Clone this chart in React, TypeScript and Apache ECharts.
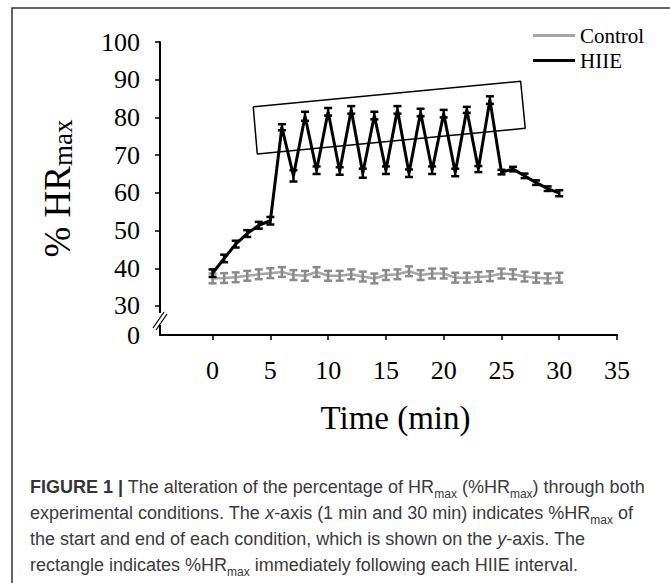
import React, { useEffect, useRef } from "react";
import * as echarts from "echarts";

// ---- data ----
const minutes = [0, 1, 2, 3, 4, 5, 6, 7, 8, 9, 10, 11, 12, 13, 14, 15, 16, 17, 18, 19, 20, 21, 22, 23, 24, 25, 26, 27, 28, 29, 30];
const controlValues = [37.3, 37.4, 37.6, 38.0, 38.4, 38.7, 39.0, 38.2, 38.0, 39.0, 38.0, 38.0, 38.4, 37.8, 37.3, 38.2, 38.4, 39.2, 38.2, 38.6, 38.6, 37.5, 37.5, 37.7, 37.9, 38.6, 38.4, 37.8, 37.5, 37.3, 37.5];
const controlErrors = [1.3, 1.3, 1.3, 1.3, 1.3, 1.3, 1.3, 1.3, 1.3, 1.3, 1.3, 1.3, 1.3, 1.3, 1.3, 1.3, 1.3, 1.3, 1.3, 1.3, 1.3, 1.3, 1.3, 1.3, 1.3, 1.3, 1.3, 1.3, 1.3, 1.3, 1.3];
const hiieValues = [38.7, 42.6, 46.4, 49.2, 51.4, 52.6, 77.4, 64.5, 80.3, 66.0, 81.5, 65.8, 82.0, 65.2, 80.5, 66.0, 82.0, 65.2, 81.3, 66.0, 81.0, 65.4, 82.0, 66.3, 84.6, 65.5, 66.3, 64.5, 62.7, 61.1, 59.9];
const hiieErrors = [1.0, 1.0, 0.9, 0.9, 0.9, 1.0, 0.8, 1.5, 1.2, 1.0, 1.0, 1.0, 1.0, 1.2, 1.0, 1.0, 1.0, 1.0, 1.0, 1.0, 1.0, 1.0, 0.8, 0.8, 1.0, 0.6, 0.6, 0.6, 0.6, 0.6, 0.8];
// rectangle highlighting the post-interval peaks: [minute, %HRmax]
const rectCorners = [[3.52, 82.8], [26.66, 89.6], [27.06, 77.1], [3.87, 70.3], [3.52, 82.8]];
const xTicks = [0, 5, 10, 15, 20, 25, 30, 35];
const yTicks = [30, 40, 50, 60, 70, 80, 90, 100];
const yAxisMin = 22.3; // bottom of the broken axis, labelled "0"
const seriesNames = ["Control", "HIIE"];

const SERIF = "'Liberation Serif', 'Times New Roman', serif";
const SANS = "'Liberation Sans', Arial, sans-serif";

const GRID_LEFT = 160;
const GRID_TOP = 42;
const GRID_W = 457;
const GRID_H = 293;

function errorBarSeries(name: string, values: number[], errors: number[], color: string, half: number, width: number) {
  return {
    type: "custom",
    name: name + " SE",
    silent: true,
    z: 3,
    data: minutes.map((m, i) => [m, values[i] - errors[i], values[i] + errors[i]]),
    encode: { x: 0, y: [1, 2] },
    renderItem: (_params: any, api: any) => {
      const x = api.value(0);
      const lo = api.coord([x, api.value(1)]);
      const hi = api.coord([x, api.value(2)]);
      const st = { stroke: color, lineWidth: width };
      return {
        type: "group",
        children: [
          { type: "line", shape: { x1: lo[0], y1: lo[1], x2: hi[0], y2: hi[1] }, style: st },
          { type: "line", shape: { x1: lo[0] - half, y1: lo[1], x2: lo[0] + half, y2: lo[1] }, style: st },
          { type: "line", shape: { x1: hi[0] - half, y1: hi[1], x2: hi[0] + half, y2: hi[1] }, style: st },
        ],
      };
    },
  };
}

export default function App() {
  const ref = useRef<HTMLDivElement>(null);

  useEffect(() => {
    if (!ref.current) return;
    const chart = echarts.init(ref.current, undefined, { renderer: "svg" });
    const bottomY = GRID_TOP + GRID_H;

    const option: any = {
      animation: false,
      backgroundColor: "#fff",
      grid: { left: GRID_LEFT, top: GRID_TOP, width: GRID_W, height: GRID_H },
      legend: {
        data: seriesNames,
        orient: "vertical",
        left: 528,
        top: 20,
        icon: "rect",
        itemWidth: 42,
        itemHeight: 3,
        itemGap: 4,
        textStyle: { fontFamily: SERIF, fontSize: 21, color: "#000" },
      },
      xAxis: {
        type: "value",
        min: -4.55,
        max: 35,
        name: "Time (min)",
        nameLocation: "middle",
        nameGap: 66,
        nameTextStyle: { fontFamily: SERIF, fontSize: 33, color: "#000", padding: [0, 0, 0, 14] },
        axisLine: { show: true, onZero: false, lineStyle: { color: "#000", width: 2 } },
        axisTick: { show: true, length: 5, customValues: xTicks, lineStyle: { color: "#000", width: 1.5 } },
        axisLabel: {
          customValues: xTicks,
          fontFamily: SERIF,
          fontSize: 26,
          color: "#000",
          margin: 22,
        },
        splitLine: { show: false },
      },
      yAxis: {
        type: "value",
        min: yAxisMin,
        max: 100,
        axisLine: { show: true, onZero: false, lineStyle: { color: "#000", width: 2 } },
        axisTick: { show: true, length: 5, customValues: yTicks, lineStyle: { color: "#000", width: 1.5 } },
        axisLabel: {
          customValues: [yAxisMin, ...yTicks],
          formatter: (v: number) => (v < yTicks[0] ? "0" : String(Math.round(v))),
          fontFamily: SERIF,
          fontSize: 26,
          color: "#000",
          margin: 20,
        },
        splitLine: { show: false },
      },
      series: [
        {
          name: "Control",
          type: "line",
          data: minutes.map((m, i) => [m, controlValues[i]]),
          showSymbol: false,
          symbol: "none",
          color: "#a6a6a6",
          lineStyle: { color: "#a6a6a6", width: 2.5 },
          z: 2,
        },
        errorBarSeries("Control", controlValues, controlErrors, "#8a8a8a", 4, 2.5),
        {
          name: "HIIE",
          type: "line",
          data: minutes.map((m, i) => [m, hiieValues[i]]),
          showSymbol: false,
          symbol: "none",
          color: "#000",
          lineStyle: { color: "#000", width: 3 },
          z: 4,
        },
        { ...errorBarSeries("HIIE", hiieValues, hiieErrors, "#000", 4, 2.5), z: 5 },
        {
          name: "Rectangle",
          type: "line",
          data: rectCorners,
          showSymbol: false,
          symbol: "none",
          color: "#000",
          lineStyle: { color: "#000", width: 1.5 },
          z: 6,
          silent: true,
        },
      ],
      graphic: [
        // figure frame (cropped on right / bottom)
        { type: "rect", shape: { x: 12, y: 8, width: 700, height: 620 }, style: { fill: "none", stroke: "#333", lineWidth: 1.5 }, z: 10, silent: true },
        // axis break
        { type: "rect", shape: { x: GRID_LEFT - 3, y: bottomY - 22, width: 6, height: 12 }, style: { fill: "#fff" }, z: 20 },
        { type: "line", shape: { x1: GRID_LEFT - 7, y1: bottomY - 7, x2: GRID_LEFT + 4, y2: bottomY - 23 }, style: { stroke: "#000", lineWidth: 1.3 }, z: 21 },
        { type: "line", shape: { x1: GRID_LEFT - 4, y1: bottomY - 5, x2: GRID_LEFT + 7, y2: bottomY - 21 }, style: { stroke: "#000", lineWidth: 1.3 }, z: 21 },
        // y axis title
        {
          type: "text",
          x: 54,
          y: GRID_TOP + GRID_H / 2,
          rotation: Math.PI / 2,
          z: 10,
          style: {
            text: "{a|% HR}{s|max}",
            align: "center",
            verticalAlign: "middle",
            fill: "#000",
            rich: {
              a: { fontFamily: SERIF, fontSize: 37, lineHeight: 44, verticalAlign: "bottom", fill: "#000" },
              s: { fontFamily: SERIF, fontSize: 27, lineHeight: 28, verticalAlign: "bottom", fill: "#000" },
            },
          },
        },
        // caption
        {
          type: "text",
          x: 30,
          y: 474,
          z: 10,
          style: {
            text:
              "{b|FIGURE 1 |} The alteration of the percentage of HR{s|max} (%HR{s|max}) through both\n" +
              "experimental conditions. The {i|x}-axis (1 min and 30 min) indicates %HR{s|max} of\n" +
              "the start and end of each condition, which is shown on the {i|y}-axis. The\n" +
              "rectangle indicates %HR{s|max} immediately following each HIIE interval.",
            fontFamily: SANS,
            fontSize: 18,
            lineHeight: 26,
            fill: "#3a3a3a",
            align: "left",
            verticalAlign: "top",
            rich: {
              b: { fontFamily: SANS, fontSize: 18, fontWeight: "bold", lineHeight: 26, fill: "#333" },
              i: { fontFamily: SANS, fontSize: 18, fontStyle: "italic", lineHeight: 26, fill: "#3a3a3a" },
              s: { fontFamily: SANS, fontSize: 12, lineHeight: 14, verticalAlign: "bottom", fill: "#3a3a3a" },
            },
          },
        },
      ],
    };
    chart.setOption(option);
    return () => chart.dispose();
  }, []);

  return (
    <div
      ref={ref}
      style={{ position: "absolute", left: 0, top: 0, width: 670, height: 583, background: "#fff" }}
    />
  );
}
